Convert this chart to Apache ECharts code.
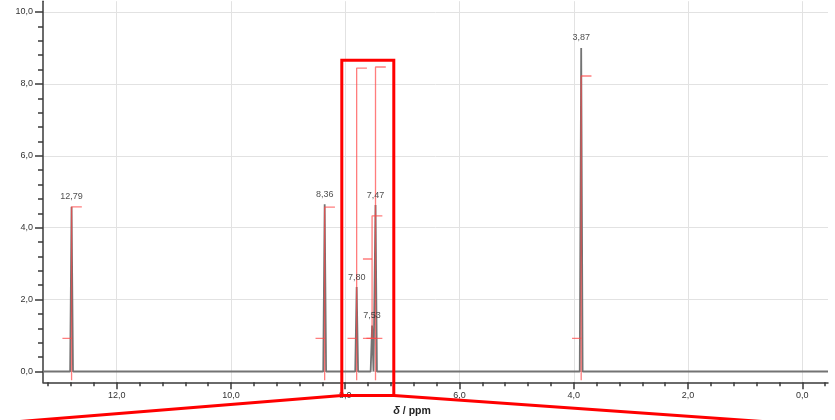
<!DOCTYPE html>
<html>
<head>
<meta charset="utf-8">
<script src="https://cdn.jsdelivr.net/npm/echarts@6/dist/echarts.min.js"></script>
<style>
  html, body { margin: 0; padding: 0; background: #fff; }
  #chart { width: 835px; height: 420px; }
</style>
</head>
<body>
<div id="chart"></div>
<script>
// 1H NMR spectrum: peak positions (ppm) and intensities
const peakShift  = [12.79, 8.36, 7.80, 7.53, 7.47, 3.87];
const peakHeight = [4.58, 4.65, 2.35, 1.28, 4.63, 9.00];

// Integral brackets: lowest point of the bar, start level and end level
const integralShift = [12.79, 8.36, 7.80, 7.53, 7.47, 3.87];
const integralLow   = [-0.24, -0.24, -0.24, 0.92, -0.24, -0.24];
const integralStart = [0.92, 0.92, 0.92, 3.13, 0.92, 0.92];
const integralEnd   = [4.58, 4.57, 8.44, 4.33, 8.47, 8.22];

// Axis ranges and tick values
const ppmMin = -0.45, ppmMax = 13.29;
const intMin = -0.3,  intMax = 10.3;
const xMajorTicks = [0, 2, 4, 6, 8, 10, 12];
const xMinorTicks = [-0.4, 0, 0.4, 0.8, 1.2, 1.6, 2.0, 2.4, 2.8, 3.2, 3.6, 4.0, 4.4, 4.8, 5.2, 5.6, 6.0,
                     6.4, 6.8, 7.2, 7.6, 8.0, 8.4, 8.8, 9.2, 9.6, 10.0, 10.4, 10.8, 11.2, 11.6, 12.0,
                     12.4, 12.8, 13.2];
const yMajorTicks = [0, 2, 4, 6, 8, 10];
const yMinorTicks = [0, 0.4, 0.8, 1.2, 1.6, 2.0, 2.4, 2.8, 3.2, 3.6, 4.0, 4.4, 4.8, 5.2, 5.6, 6.0,
                     6.4, 6.8, 7.2, 7.6, 8.0, 8.4, 8.8, 9.2, 9.6, 10.0];

// Highlighted region (ppm range and intensity range)
const zoomFrom = 8.06, zoomTo = 7.15, zoomTop = 8.66, zoomBottom = -0.67;

const comma = (v, d) => v.toFixed(d).replace('.', ',');
const FONT = 'Liberation Sans';

// spectrum trace: flat baseline with a narrow spike at each peak
const halfWidth = 0.025;
const order = peakShift.map((s, i) => i).sort((a, b) => peakShift[b] - peakShift[a]);
const spectrum = [[ppmMax, 0]];
order.forEach(i => {
  spectrum.push([peakShift[i] + halfWidth, 0]);
  spectrum.push([peakShift[i], peakHeight[i]]);
  spectrum.push([peakShift[i] - halfWidth, 0]);
});
spectrum.push([ppmMin, 0]);

// integral brackets as separate polylines
const tickL = 0.16, tickR = 0.18;
const integralStyle = { color: 'rgba(255, 70, 70, 0.7)', width: 1.3 };
const integralSeries = [];
const bracket = data => ({
  type: 'line', xAxisIndex: 0, yAxisIndex: 0, silent: true, showSymbol: false, z: 3,
  lineStyle: integralStyle, animation: false, data
});
integralShift.forEach((s, i) => {
  integralSeries.push(bracket([[s, integralLow[i]], [s, integralEnd[i]], [s - tickR, integralEnd[i]]]));
  integralSeries.push(bracket([[s + tickL, integralStart[i]], [s, integralStart[i]]]));
  if (integralLow[i] > 0) {
    integralSeries.push(bracket([[s + tickL, integralLow[i]], [s - tickR, integralLow[i]]]));
  }
});

const axisLineStyle = { color: '#3a3a3a', width: 1.5 };
const labelStyle = { fontFamily: FONT, fontSize: 9, color: '#333' };

const chart = echarts.init(document.getElementById('chart'), null, { renderer: 'canvas' });
chart.setOption({
  animation: false,
  grid: { left: 43, right: 7, top: 1.2, bottom: 37.7, containLabel: false },
  xAxis: [
    {
      type: 'value', inverse: true, min: ppmMin, max: ppmMax, position: 'bottom',
      axisLine: { show: true, onZero: false, lineStyle: axisLineStyle },
      axisTick: { show: true, length: 7, customValues: xMajorTicks, lineStyle: axisLineStyle },
      axisLabel: { show: true, customValues: xMajorTicks, margin: 9, ...labelStyle,
                   formatter: v => comma(v, 1) },
      splitLine: { show: true, lineStyle: { color: '#e2e2e2', width: 1 } }
    },
    {
      type: 'value', inverse: true, min: ppmMin, max: ppmMax, position: 'bottom',
      axisLine: { show: false, onZero: false },
      axisTick: { show: true, length: 4, customValues: xMinorTicks, lineStyle: axisLineStyle },
      axisLabel: { show: false },
      splitLine: { show: false }
    }
  ],
  yAxis: [
    {
      type: 'value', min: intMin, max: intMax, position: 'left',
      axisLine: { show: true, onZero: false, lineStyle: axisLineStyle },
      axisTick: { show: true, length: 8, customValues: yMajorTicks, lineStyle: axisLineStyle },
      axisLabel: { show: true, customValues: yMajorTicks, margin: 10, ...labelStyle,
                   formatter: v => comma(v, 1) },
      splitLine: { show: true, lineStyle: { color: '#e2e2e2', width: 1 } }
    },
    {
      type: 'value', min: intMin, max: intMax, position: 'left',
      axisLine: { show: false, onZero: false },
      axisTick: { show: true, length: 5, customValues: yMinorTicks, lineStyle: axisLineStyle },
      axisLabel: { show: false },
      splitLine: { show: false }
    }
  ],
  series: [
    {
      type: 'line', xAxisIndex: 0, yAxisIndex: 0, data: spectrum, showSymbol: false, silent: true,
      lineStyle: { color: '#737373', width: 1.8 }, z: 2
    },
    ...integralSeries,
    {
      type: 'scatter', xAxisIndex: 0, yAxisIndex: 0, symbolSize: 1, z: 4,
      itemStyle: { color: 'rgba(0,0,0,0)' },
      data: peakShift.map((s, i) => [s, peakHeight[i]]),
      label: {
        show: true, position: 'top', distance: 5, ...labelStyle, color: '#222',
        formatter: p => comma(p.value[0], 2)
      }
    }
  ]
});

// highlighted region frame, callout lines and axis title
const tl = chart.convertToPixel({ gridIndex: 0 }, [zoomFrom, zoomTop]);
const br = chart.convertToPixel({ gridIndex: 0 }, [zoomTo, zoomBottom]);
const W = chart.getWidth();
chart.setOption({
  graphic: [
    {
      type: 'rect', z: 100, silent: true,
      shape: { x: tl[0], y: tl[1], width: br[0] - tl[0], height: br[1] - tl[1] },
      style: { fill: null, stroke: '#ff0000', lineWidth: 3 }
    },
    {
      type: 'line', z: 100, silent: true,
      shape: { x1: tl[0], y1: br[1], x2: 0, y2: br[1] + 27.5 },
      style: { stroke: '#ff0000', lineWidth: 3 }
    },
    {
      type: 'line', z: 100, silent: true,
      shape: { x1: br[0], y1: br[1], x2: W, y2: br[1] + 31 },
      style: { stroke: '#ff0000', lineWidth: 3 }
    },
    {
      type: 'text', z: 90, silent: true, x: 412, y: 411,
      style: {
        text: '{d|δ} / ppm', align: 'center', verticalAlign: 'middle',
        fontFamily: FONT, fontSize: 10.5, fontWeight: 'bold', fill: '#222',
        rich: { d: { fontFamily: FONT, fontSize: 11, fontWeight: 'bold', fontStyle: 'italic', fill: '#222' } }
      }
    }
  ]
});
</script>
</body>
</html>
